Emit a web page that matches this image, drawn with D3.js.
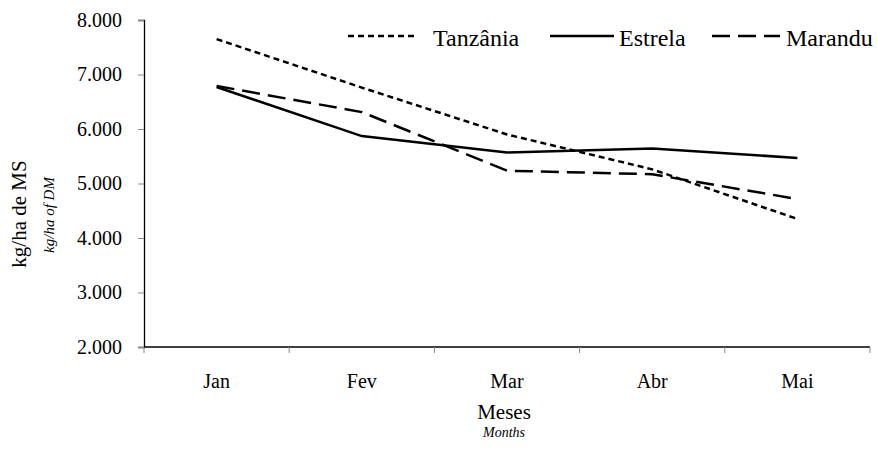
<!DOCTYPE html>
<html>
<head>
<meta charset="utf-8">
<script src="https://cdn.jsdelivr.net/npm/d3@7"></script>
<style>
  html, body { margin: 0; padding: 0; background: #fff; }
  svg { display: block; }
  svg text { font-family: "Liberation Serif", "Times New Roman", serif !important; fill: #000; }
</style>
</head>
<body>
<div id="chart"></div>
<script>
const months = ["Jan", "Fev", "Mar", "Abr", "Mai"];
const tanzania = [7650, 6760, 5900, 5260, 4350];
const estrela = [6770, 5870, 5570, 5640, 5470];
const marandu = [6790, 6310, 5235, 5170, 4715];
const yTicks = [2000, 3000, 4000, 5000, 6000, 7000, 8000];
const seriesNames = ["Tanzânia", "Estrela", "Marandu"];

(function () {
const W = 877, H = 450;
const mLeft = 144, mRight = 870, mTop = 20, mBottom = 347;
const FONT = "'Liberation Serif', 'Times New Roman', serif";

const svg = d3.select("#chart").append("svg")
  .attr("width", W).attr("height", H)
  .attr("font-family", FONT)
  .style("background", "#fff");

const x = d3.scaleBand().domain(months).range([mLeft, mRight]).paddingInner(0).paddingOuter(0);
const y = d3.scaleLinear().domain([2000, 8000]).range([mBottom, mTop]);

const loc = d3.formatLocale({ decimal: ",", thousands: ".", grouping: [3], currency: ["R$", ""] });
const fmt = loc.format(",.0f");

// Y axis
const yAxis = svg.append("g")
  .attr("transform", `translate(${mLeft},0)`)
  .call(d3.axisLeft(y).tickValues(yTicks).tickFormat(fmt).tickSize(6).tickPadding(16));
yAxis.attr("font-family", FONT).attr("font-size", 20);
yAxis.select(".domain").attr("stroke", "#000").attr("stroke-width", 1.3);
yAxis.selectAll(".tick line").attr("stroke", "#888").attr("stroke-width", 1);
yAxis.selectAll(".tick text").style("font-size", "20px").style("font-family", FONT);

// X axis
const xg = svg.append("g");
xg.append("line")
  .attr("x1", mLeft).attr("x2", mRight)
  .attr("y1", mBottom).attr("y2", mBottom)
  .attr("stroke", "#000").attr("stroke-width", 1.3);
const bounds = months.map(m => x(m)).concat([x(months[months.length - 1]) + x.bandwidth()]);
xg.selectAll("line.tk").data(bounds).enter().append("line")
  .attr("class", "tk")
  .attr("x1", d => d).attr("x2", d => d)
  .attr("y1", mBottom).attr("y2", mBottom + 6)
  .attr("stroke", "#888").attr("stroke-width", 1);
xg.selectAll("text.lbl").data(months).enter().append("text")
  .attr("class", "lbl")
  .attr("x", d => x(d) + x.bandwidth() / 2)
  .attr("y", 388)
  .attr("text-anchor", "middle")
  .style("font-size", "20px")
  .style("font-family", FONT)
  .text(d => d);

// Axis titles
svg.append("text").attr("x", 504).attr("y", 419).attr("text-anchor", "middle")
  .style("font-size", "21px").style("font-family", FONT).text("Meses");
svg.append("text").attr("x", 504).attr("y", 437).attr("text-anchor", "middle")
  .style("font-size", "14px").style("font-style", "italic").style("font-family", FONT).text("Months");
svg.append("text").attr("transform", "translate(26,214) rotate(-90)").attr("text-anchor", "middle")
  .style("font-size", "21px").style("font-family", FONT).text("kg/ha de MS");
svg.append("text").attr("transform", "translate(54,215) rotate(-90)").attr("text-anchor", "middle")
  .style("font-size", "15px").style("font-style", "italic").style("font-family", FONT).text("kg/ha of DM");

// Lines
const series = [
  { name: seriesNames[0], values: tanzania, dash: "6,4" },
  { name: seriesNames[1], values: estrela, dash: null },
  { name: seriesNames[2], values: marandu, dash: "18,8" }
];
const line = d3.line()
  .x((d, i) => x(months[i]) + x.bandwidth() / 2)
  .y(d => y(d));
svg.selectAll("path.series").data(series).enter().append("path")
  .attr("class", "series")
  .attr("d", d => line(d.values))
  .attr("fill", "none")
  .attr("stroke", "#000")
  .attr("stroke-width", 2.5)
  .attr("stroke-dasharray", d => d.dash);

// Legend
const legendPos = [
  { x1: 348, x2: 418, tx: 433 },
  { x1: 550, x2: 614, tx: 619 },
  { x1: 712, x2: 780, tx: 786 }
];
const lg = svg.append("g");
series.forEach((s, i) => {
  const p = legendPos[i];
  lg.append("line").attr("x1", p.x1).attr("x2", p.x2).attr("y1", 36).attr("y2", 36)
    .attr("stroke", "#000").attr("stroke-width", 2.5).attr("stroke-dasharray", s.dash);
  lg.append("text").attr("x", p.tx).attr("y", 46)
    .style("font-size", "24px").style("font-family", FONT).text(s.name);
});
})();
</script>
</body>
</html>
